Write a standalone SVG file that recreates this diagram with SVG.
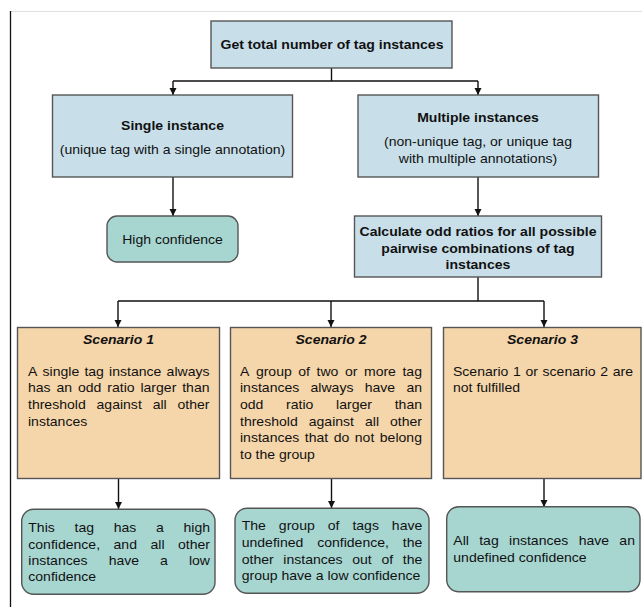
<svg xmlns="http://www.w3.org/2000/svg" width="642" height="607" viewBox="0 0 642 607">
<defs>
<marker id="ah" markerUnits="userSpaceOnUse" markerWidth="9" markerHeight="9" refX="7.5" refY="3.75" orient="auto">
<path d="M0,0 L7.5,3.75 L0,7.5 z" fill="#111"/>
</marker>
</defs>
<style>
.blue{fill:#c8dfea;stroke:#555;stroke-width:1.4}
.peach{fill:#f5d5aa;stroke:#555;stroke-width:1.4}
.teal{fill:#a7d6d1;stroke:#555;stroke-width:1.4}
.t{font-family:"Liberation Sans",Arial,Helvetica,sans-serif;font-size:12.5px;fill:#111}
.b{font-weight:bold}
.bi{font-weight:bold;font-style:italic}
.c{text-anchor:middle}
.con{fill:none;stroke:#111;stroke-width:1.4}
</style>
<rect x="0" y="0" width="642" height="607" fill="#ffffff"/>
<g id="frame">
<line x1="10" y1="11.5" x2="642" y2="11.5" stroke="#e0e0e0" stroke-width="1"/>
<line x1="10.5" y1="11" x2="10.5" y2="607" stroke="#111" stroke-width="1.3"/>
</g>
<g id="connectors">
<path class="con" d="M331.5,68 V81 M173,81 H478"/>
<path class="con" d="M173,81 V95" marker-end="url(#ah)"/>
<path class="con" d="M478,81 V95" marker-end="url(#ah)"/>
<path class="con" d="M173,177 V216" marker-end="url(#ah)"/>
<path class="con" d="M478,177 V216" marker-end="url(#ah)"/>
<path class="con" d="M478,277 V301 M118,301 H544"/>
<path class="con" d="M118,301 V327" marker-end="url(#ah)"/>
<path class="con" d="M331,301 V327" marker-end="url(#ah)"/>
<path class="con" d="M544,301 V327" marker-end="url(#ah)"/>
<path class="con" d="M118.5,478 V509" marker-end="url(#ah)"/>
<path class="con" d="M331.5,478 V508" marker-end="url(#ah)"/>
<path class="con" d="M544,478 V507" marker-end="url(#ah)"/>
</g>
<g id="n_total">
<rect class="blue" x="211" y="21" width="241" height="47"/>
<text class="t b c" transform="scale(1.1232 1)" x="295.58" y="48.8">Get total number of tag instances</text>
</g>
<g id="n_single">
<rect class="blue" x="52.5" y="95" width="240" height="82"/>
<text class="t b c" transform="scale(1.1232 1)" x="153.58" y="130.3">Single instance</text>
<text class="t c" transform="scale(1.1232 1)" x="153.58" y="153.8">(unique tag with a single annotation)</text>
</g>
<g id="n_multiple">
<rect class="blue" x="358" y="95" width="240.5" height="82"/>
<text class="t b c" transform="scale(1.1232 1)" x="425.57" y="121.8">Multiple instances</text>
<text class="t c" transform="scale(1.1232 1)" x="425.57" y="146.3">(non-unique tag, or unique tag</text>
<text class="t c" transform="scale(1.1232 1)" x="425.57" y="163.3">with multiple annotations)</text>
</g>
<g id="n_high">
<rect class="teal" x="107" y="216" width="131" height="46" rx="10" ry="10"/>
<text class="t c" transform="scale(1.1232 1)" x="153.58" y="243.8">High confidence</text>
</g>
<g id="n_calc">
<rect class="blue" x="354.5" y="216" width="247" height="61"/>
<text class="t b c" transform="scale(1.1232 1)" x="425.57" y="236.3">Calculate odd ratios for all possible</text>
<text class="t b c" transform="scale(1.1232 1)" x="425.57" y="252.8">pairwise combinations of tag</text>
<text class="t b c" transform="scale(1.1232 1)" x="425.57" y="269.3">instances</text>
</g>
<g id="n_s1">
<rect class="peach" x="17.5" y="327.5" width="202" height="151"/>
<text class="t bi c" transform="scale(1.1232 1)" x="105.5" y="344.3">Scenario 1</text>
<text class="t" transform="scale(1.1232 1)" y="375.8"><tspan x="24.93">A</tspan><tspan x="37.88">single</tspan><tspan x="75.16">tag</tspan><tspan x="97.16">instance</tspan><tspan x="148.33">always</tspan></text>
<text class="t" transform="scale(1.1232 1)" y="392.5"><tspan x="24.93">has</tspan><tspan x="50.30">an</tspan><tspan x="69.42">odd</tspan><tspan x="95.50">ratio</tspan><tspan x="125.04">larger</tspan><tspan x="162.22">than</tspan></text>
<text class="t" transform="scale(1.1232 1)" y="409.1"><tspan x="24.93">threshold</tspan><tspan x="85.96">against</tspan><tspan x="135.89">all</tspan><tspan x="158.01">other</tspan></text>
<text class="t" transform="scale(1.1232 1)" x="24.93" y="425.8">instances</text>
</g>
<g id="n_s2">
<rect class="peach" x="230.5" y="327.5" width="201" height="151"/>
<text class="t bi c" transform="scale(1.1232 1)" x="294.69" y="344.3">Scenario 2</text>
<text class="t" transform="scale(1.1232 1)" y="375.8"><tspan x="213.68">A</tspan><tspan x="227.82">group</tspan><tspan x="265.60">of</tspan><tspan x="281.84">two</tspan><tspan x="307.11">or</tspan><tspan x="324.03">more</tspan><tspan x="358.31">tag</tspan></text>
<text class="t" transform="scale(1.1232 1)" y="392.5"><tspan x="213.68">instances</tspan><tspan x="276.49">always</tspan><tspan x="324.70">have</tspan><tspan x="361.82">an</tspan></text>
<text class="t" transform="scale(1.1232 1)" y="409.1"><tspan x="213.68">odd</tspan><tspan x="254.73">ratio</tspan><tspan x="299.25">larger</tspan><tspan x="351.41">than</tspan></text>
<text class="t" transform="scale(1.1232 1)" y="425.8"><tspan x="213.68">threshold</tspan><tspan x="274.86">against</tspan><tspan x="324.94">all</tspan><tspan x="347.21">other</tspan></text>
<text class="t" transform="scale(1.1232 1)" y="442.5"><tspan x="213.68">instances</tspan><tspan x="271.37">that</tspan><tspan x="297.12">do</tspan><tspan x="315.91">not</tspan><tspan x="338.17">belong</tspan></text>
<text class="t" transform="scale(1.1232 1)" x="213.68" y="459.1">to the group</text>
</g>
<g id="n_s3">
<rect class="peach" x="443.5" y="327.5" width="197.5" height="151"/>
<text class="t bi c" transform="scale(1.1232 1)" x="483" y="344.3">Scenario 3</text>
<text class="t" transform="scale(1.1232 1)" y="375.8"><tspan x="403.31">Scenario</tspan><tspan x="456.76">1</tspan><tspan x="467.84">or</tspan><tspan x="483.08">scenario</tspan><tspan x="534.44">2</tspan><tspan x="545.52">are</tspan></text>
<text class="t" transform="scale(1.1232 1)" x="403.31" y="392.5">not fulfilled</text>
</g>
<g id="n_r1">
<rect class="teal" x="21.7" y="509.3" width="193.3" height="85" rx="12" ry="12"/>
<text class="t" transform="scale(1.1232 1)" y="532"><tspan x="25.19">This</tspan><tspan x="66.33">tag</tspan><tspan x="101.22">has</tspan><tspan x="138.89">a</tspan><tspan x="163.37">high</tspan></text>
<text class="t" transform="scale(1.1232 1)" y="548.6"><tspan x="25.19">confidence,</tspan><tspan x="101.12">and</tspan><tspan x="133.99">all</tspan><tspan x="158.49">other</tspan></text>
<text class="t" transform="scale(1.1232 1)" y="565"><tspan x="25.19">instances</tspan><tspan x="96.72">have</tspan><tspan x="142.55">a</tspan><tspan x="168.24">low</tspan></text>
<text class="t" transform="scale(1.1232 1)" x="25.19" y="581.5">confidence</text>
</g>
<g id="n_r2">
<rect class="teal" x="235" y="508.3" width="194" height="85" rx="12" ry="12"/>
<text class="t" transform="scale(1.1232 1)" y="530.5"><tspan x="215.19">The</tspan><tspan x="248.27">group</tspan><tspan x="291.78">of</tspan><tspan x="313.74">tags</tspan><tspan x="348.90">have</tspan></text>
<text class="t" transform="scale(1.1232 1)" y="547.1"><tspan x="215.19">undefined</tspan><tspan x="282.39">confidence,</tspan><tspan x="358.61">the</tspan></text>
<text class="t" transform="scale(1.1232 1)" y="563.7"><tspan x="215.19">other</tspan><tspan x="252.26">instances</tspan><tspan x="313.63">out</tspan><tspan x="339.58">of</tspan><tspan x="358.59">the</tspan></text>
<text class="t" transform="scale(1.1232 1)" x="215.19" y="580.3">group have a low confidence</text>
</g>
<g id="n_r3">
<rect class="teal" x="446.7" y="506.7" width="193.3" height="85" rx="12" ry="12"/>
<text class="t" transform="scale(1.1232 1)" y="545.3"><tspan x="403.58">All</tspan><tspan x="426.65">tag</tspan><tspan x="453.20">instances</tspan><tspan x="515.17">have</tspan><tspan x="551.45">an</tspan></text>
<text class="t" transform="scale(1.1232 1)" x="403.58" y="562">undefined confidence</text>
</g>
</svg>
